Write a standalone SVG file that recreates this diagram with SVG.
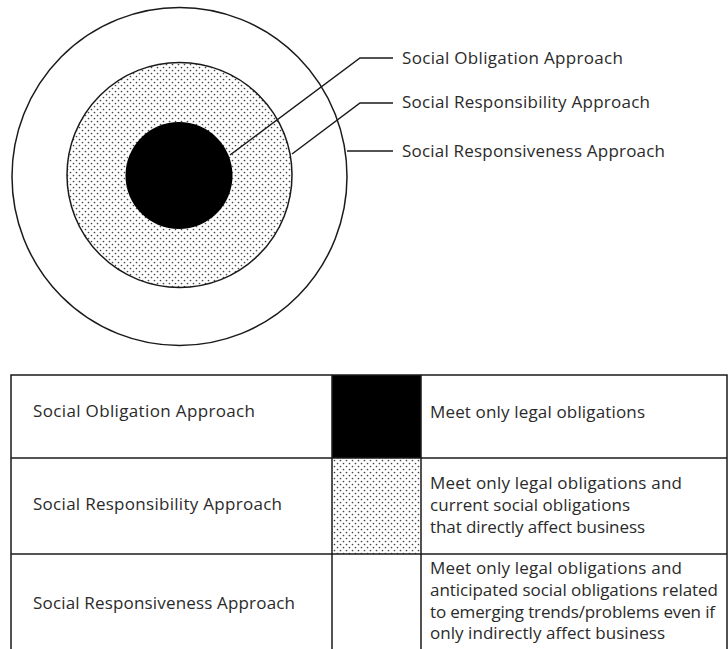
<svg xmlns="http://www.w3.org/2000/svg" width="728" height="649" viewBox="0 0 728 649">
  <defs>
    <pattern id="dots" width="6" height="6" patternUnits="userSpaceOnUse">
      <circle cx="1.5" cy="1.5" r="0.85" fill="#444"/>
      <circle cx="4.5" cy="4.5" r="0.85" fill="#444"/>
    </pattern>
    <style>
      .ln { fill: none; stroke: #1a1a1a; stroke-width: 1.5; }
      .ring { stroke: #1a1a1a; stroke-width: 1.5; }
      .tx { font-family: "Open Sans", "Noto Sans", "Liberation Sans", sans-serif; font-size: 17px; fill: #2a2a2a; }
    </style>
  </defs>
  <rect width="728" height="649" fill="#fff"/>

  <!-- concentric approach circles -->
  <g id="responsiveness-ring">
    <ellipse cx="179.5" cy="176.5" rx="167.5" ry="169" class="ring" style="fill:#fff"/>
  </g>
  <g id="responsibility-ring">
    <circle cx="179.5" cy="175" r="112.5" class="ring" style="fill:url(#dots)"/>
  </g>
  <g id="obligation-core">
    <circle cx="179" cy="175.5" r="53.5" fill="#000"/>
  </g>

  <!-- leader lines -->
  <g id="connectors">
    <polyline class="ln" points="230,155 360,58 393,58"/>
    <polyline class="ln" points="292,154 360,103 393,103"/>
    <polyline class="ln" points="347,151 393,151"/>
  </g>

  <g id="labels">
    <text class="tx" x="402" y="64" textLength="221">Social Obligation Approach</text>
    <text class="tx" x="402" y="108" textLength="248">Social Responsibility Approach</text>
    <text class="tx" x="402" y="157" textLength="263">Social Responsiveness Approach</text>
  </g>

  <!-- legend table -->
  <g id="table">
    <rect x="332" y="375" width="89" height="83" fill="#000"/>
    <rect x="332" y="458" width="89" height="96" fill="url(#dots)"/>
    <polyline class="ln" points="11,649 11,375 727,375 727,649"/>
    <line class="ln" x1="11" y1="458" x2="727" y2="458"/>
    <line class="ln" x1="11" y1="554" x2="727" y2="554"/>
    <line class="ln" x1="332" y1="375" x2="332" y2="649"/>
    <line class="ln" x1="421" y1="375" x2="421" y2="649"/>
  </g>

  <g id="row-obligation">
    <text class="tx" x="33" y="417" textLength="222">Social Obligation Approach</text>
    <text class="tx" x="430" y="418" textLength="215">Meet only legal obligations</text>
  </g>
  <g id="row-responsibility">
    <text class="tx" x="33" y="510" textLength="249">Social Responsibility Approach</text>
    <text class="tx" x="430" y="489" textLength="252">Meet only legal obligations and</text>
    <text class="tx" x="430" y="511" textLength="200">current social obligations</text>
    <text class="tx" x="430" y="533" textLength="215">that directly affect business</text>
  </g>
  <g id="row-responsiveness">
    <text class="tx" x="33" y="609" textLength="262">Social Responsiveness Approach</text>
    <text class="tx" x="430" y="574" textLength="252">Meet only legal obligations and</text>
    <text class="tx" x="430" y="596" textLength="288">anticipated social obligations related</text>
    <text class="tx" x="430" y="618" textLength="285">to emerging trends/problems even if</text>
    <text class="tx" x="430" y="639" textLength="235">only indirectly affect business</text>
  </g>
</svg>
